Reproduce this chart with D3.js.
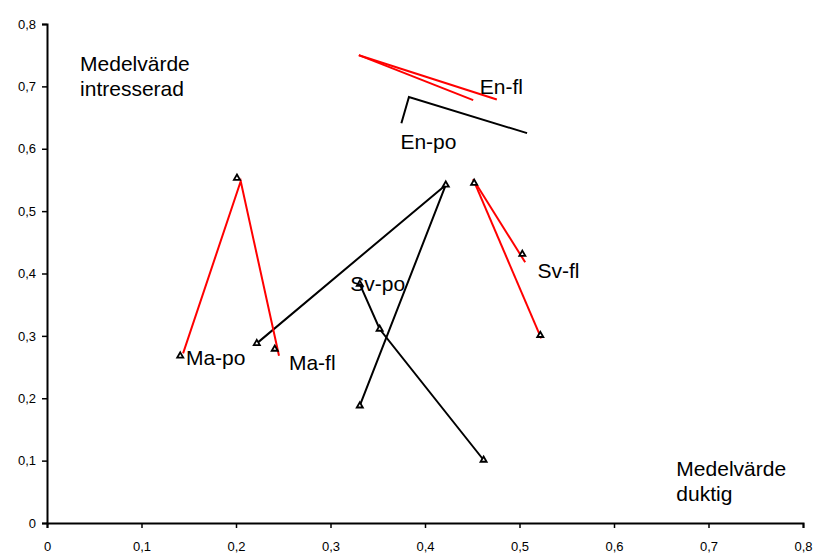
<!DOCTYPE html>
<html><head><meta charset="utf-8">
<script src="https://cdn.jsdelivr.net/npm/d3@7"></script>
<style>body{margin:0;background:#fff}svg{display:block}text{font-family:"Liberation Sans",Arial,sans-serif}</style>
</head><body>
<svg id="c" width="818" height="556"></svg>
<script>
const xTicks = [0,0.1,0.2,0.3,0.4,0.5,0.6,0.7,0.8];
const yTicks = [0,0.1,0.2,0.3,0.4,0.5,0.6,0.7,0.8];
const markerPoints = [[0.141,0.268],[0.201,0.553],[0.222,0.288],[0.241,0.279],[0.422,0.542],[0.331,0.188],[0.331,0.383],[0.462,0.101],[0.352,0.311],[0.452,0.545],[0.503,0.431],[0.522,0.301]];
const redLines = [
  [[0.144,0.272],[0.205,0.548],[0.2455,0.268]],
  [[0.330,0.750],[0.451,0.678]],
  [[0.330,0.750],[0.476,0.679]],
  [[0.451,0.551],[0.506,0.418]],
  [[0.451,0.551],[0.523,0.296]]
];
const blackLines = [
  [[0.375,0.641],[0.383,0.683],[0.508,0.625]],
  [[0.222,0.288],[0.422,0.542],[0.331,0.188]],
  [[0.331,0.383],[0.352,0.311],[0.462,0.101]]
];
const seriesLabels = [
  {t:"En-fl", x:0.458, y:0.688},
  {t:"En-po", x:0.374, y:0.599},
  {t:"Ma-po", x:0.147, y:0.254},
  {t:"Ma-fl", x:0.256, y:0.246},
  {t:"Sv-po", x:0.321, y:0.372},
  {t:"Sv-fl", x:0.519, y:0.392}
];
const axisTitles = [
  {lines:["Medelvärde","intresserad"], x:0.035, y:0.724},
  {lines:["Medelvärde","duktig"], x:0.666, y:0.075}
];

const svg = d3.select("#c");
const x = d3.scaleLinear().domain([0,0.8]).range([47,803]);
const y = d3.scaleLinear().domain([0,0.8]).range([523,24]);
const fmt = d => d===0 ? "0" : d.toFixed(1).replace(".",",");

const ax = svg.append("g").attr("transform","translate(0,523)")
  .call(d3.axisBottom(x).tickValues(xTicks).tickFormat(fmt).tickSize(5).tickPadding(14));
const ay = svg.append("g").attr("transform","translate(47,0)")
  .call(d3.axisLeft(y).tickValues(yTicks).tickFormat(fmt).tickSize(5).tickPadding(6));
[ax,ay].forEach(g=>{
  g.select(".domain").attr("stroke","#000").attr("stroke-width",2);
  g.selectAll(".tick line").attr("stroke","#000").attr("stroke-width",1.5);
  g.selectAll(".tick text").attr("fill","#000").attr("font-size",13).attr("font-family","Liberation Sans, Arial, sans-serif");
});

const line = d3.line().x(d=>x(d[0])).y(d=>y(d[1]));
svg.append("g").selectAll("path").data(blackLines).join("path")
  .attr("d",line).attr("fill","none").attr("stroke","#000").attr("stroke-width",2);
svg.append("g").selectAll("path").data(redLines).join("path")
  .attr("d",line).attr("fill","none").attr("stroke","#ff0000").attr("stroke-width",2);

const tri = d3.symbol().type(d3.symbolTriangle).size(16);
svg.append("g").selectAll("path").data(markerPoints).join("path")
  .attr("d",tri).attr("transform",d=>`translate(${x(d[0])},${y(d[1])})`)
  .attr("fill","#fff").attr("stroke","#000").attr("stroke-width",1.8);

svg.append("g").selectAll("text").data(seriesLabels).join("text")
  .attr("x",d=>x(d.x)).attr("y",d=>y(d.y)).text(d=>d.t)
  .attr("font-size",21).attr("fill","#000");

const at = svg.append("g").selectAll("text").data(axisTitles).join("text")
  .attr("x",d=>x(d.x)).attr("y",d=>y(d.y)).attr("font-size",21).attr("fill","#000");
at.selectAll("tspan").data(d=>d.lines.map((l,i)=>({l,i,x:x(d.x)}))).join("tspan")
  .attr("x",d=>d.x).attr("dy",d=>d.i===0?0:25).text(d=>d.l);
</script>
</body></html>
